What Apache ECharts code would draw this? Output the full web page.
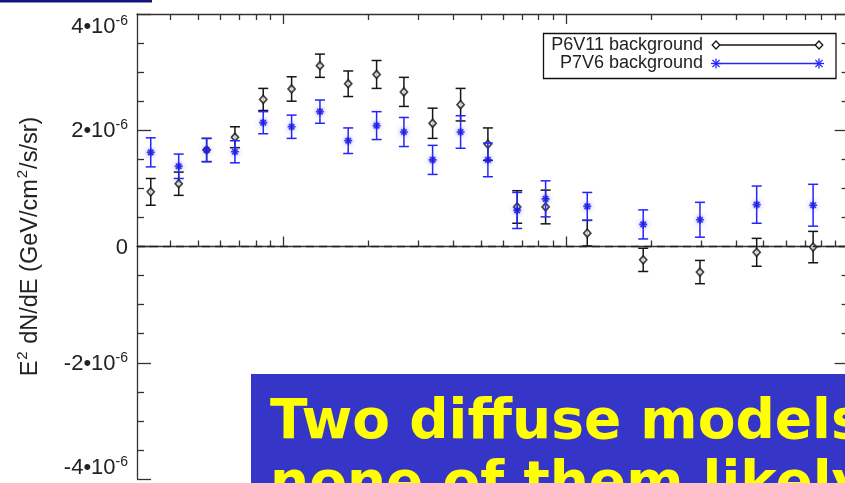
<!DOCTYPE html>
<html>
<head>
<meta charset="utf-8">
<script src="https://cdn.jsdelivr.net/npm/echarts@6/dist/echarts.min.js"></script>
<style>
  html, body { margin: 0; padding: 0; background: #ffffff; }
  #chart { width: 845px; height: 483px; }
</style>
</head>
<body>
<div id="chart"></div>
<script>
// Energy bin centres (GeV)
const energy = [0.340, 0.427, 0.536, 0.675, 0.850, 1.071, 1.349, 1.698, 2.140, 2.673,
                3.377, 4.242, 5.298, 6.725, 8.476, 11.9, 18.77, 29.8, 47.3, 74.9];

// E^2 dN/dE residual spectra, in units of 1e-6 GeV/cm^2/s/sr
const p6v11    = [0.94, 1.08, 1.66, 1.88, 2.53, 2.71, 3.11, 2.80, 2.96, 2.66,
                  2.12, 2.44, 1.76, 0.68, 0.68, 0.23, -0.23, -0.44, -0.10, -0.01];
const p6v11Err = [0.23, 0.20, 0.20, 0.18, 0.19, 0.21, 0.20, 0.22, 0.24, 0.25,
                  0.26, 0.28, 0.28, 0.28, 0.29, 0.22, 0.20, 0.20, 0.24, 0.27];
const p7v6     = [1.62, 1.38, 1.66, 1.63, 2.13, 2.06, 2.32, 1.82, 2.08, 1.97,
                  1.49, 1.97, 1.49, 0.62, 0.82, 0.69, 0.38, 0.46, 0.72, 0.71];
const p7v6Err  = [0.25, 0.21, 0.20, 0.19, 0.19, 0.20, 0.20, 0.22, 0.24, 0.25,
                  0.25, 0.28, 0.29, 0.31, 0.31, 0.24, 0.25, 0.30, 0.32, 0.36];

const seriesNames = ['P6V11 background', 'P7V6 background'];

// Axis ticks
const yTicks = [-4, -2, 0, 2, 4];          // labelled, x 1e-6
const xMajorTicks = [1, 10];
const xMinorTicks = [0.4, 0.5, 0.6, 0.7, 0.8, 0.9,
                     2, 3, 4, 5, 6, 7, 8, 9,
                     20, 30, 40, 50, 60, 70, 80, 90];

const yAxisTitle = ['E', '2', ' dN/dE (GeV/cm', '2', '/s/sr)'];
const boxLines = ['Two diffuse models', 'none of them likely'];

const BLACK = '#161616';
const BLUE = '#2424ff';
const AXIS = '#333333';
const FONT = '"Liberation Sans", Arial, sans-serif';

const asteriskPath = 'path://M5,0V10M0,5H10M1.6,1.6L8.4,8.4M1.6,8.4L8.4,1.6';

function pack(xs, ys, es) {
  return xs.map((x, i) => [x, ys[i], es[i]]);
}

// Vertical error bar with caps, positioned through the axes
function errorBar(color) {
  return function (params, api) {
    const x = api.value(0), y = api.value(1), e = api.value(2);
    const hi = api.coord([x, y + e]);
    const lo = api.coord([x, y - e]);
    const cap = 5;
    const style = { stroke: color, lineWidth: 1.5, fill: null };
    return {
      type: 'group',
      children: [
        { type: 'line', shape: { x1: hi[0], y1: hi[1], x2: lo[0], y2: lo[1] }, style },
        { type: 'line', shape: { x1: hi[0] - cap, y1: hi[1], x2: hi[0] + cap, y2: hi[1] }, style },
        { type: 'line', shape: { x1: lo[0] - cap, y1: lo[1], x2: lo[0] + cap, y2: lo[1] }, style }
      ]
    };
  };
}

const xBase = {
  type: 'log',
  logBase: 10,
  min: 0.304,
  max: 100,
  axisLabel: { show: false },
  splitLine: { show: false },
  minorTick: { show: false }
};
const tickStyle = { color: AXIS, width: 1.3 };

const xAxes = [
  Object.assign({}, xBase, { position: 'bottom',
    axisLine: { show: true, lineStyle: tickStyle },
    axisTick: { show: true, inside: true, length: 10, customValues: xMajorTicks, lineStyle: tickStyle } }),
  Object.assign({}, xBase, { position: 'bottom',
    axisLine: { show: false },
    axisTick: { show: true, inside: true, length: 6, customValues: xMinorTicks, lineStyle: tickStyle } }),
  Object.assign({}, xBase, { position: 'top',
    axisLine: { show: true, lineStyle: tickStyle },
    axisTick: { show: true, inside: true, length: 10, customValues: xMajorTicks, lineStyle: tickStyle } }),
  Object.assign({}, xBase, { position: 'top',
    axisLine: { show: false },
    axisTick: { show: true, inside: true, length: 6, customValues: xMinorTicks, lineStyle: tickStyle } })
];

const yBase = {
  type: 'value',
  min: yTicks[0],
  max: yTicks[yTicks.length - 1],
  interval: 2,
  splitLine: { show: false },
  axisLine: { show: true, lineStyle: tickStyle },
  axisTick: { show: true, inside: true, length: 14, lineStyle: tickStyle },
  minorTick: { show: true, splitNumber: 4, length: 7, lineStyle: tickStyle }
};

const yAxes = [
  Object.assign({}, yBase, {
    position: 'left',
    name: yAxisTitle.map((t, i) => (i % 2 ? '{s|' + t + '}' : '{n|' + t + '}')).join(''),
    nameLocation: 'middle',
    nameRotate: 90,
    nameGap: 94,
    nameTextStyle: {
      rich: {
        n: { fontFamily: FONT, fontSize: 23.5, color: '#222', lineHeight: 28, verticalAlign: 'bottom' },
        s: { fontFamily: FONT, fontSize: 15, color: '#222', lineHeight: 28, verticalAlign: 'top', padding: [0, 1, 0, 1] }
      }
    },
    axisLabel: {
      show: true,
      margin: 9,
      verticalAlignMaxLabel: 'top',
      verticalAlignMinLabel: 'bottom',
      formatter: v => (v === 0 ? '{m|0}' : '{m|' + v + '•10}{s|-6}'),
      rich: {
        m: { fontFamily: FONT, fontSize: 22, color: '#222', lineHeight: 24, verticalAlign: 'bottom' },
        s: { fontFamily: FONT, fontSize: 14, color: '#222', lineHeight: 24, verticalAlign: 'top' }
      }
    }
  }),
  Object.assign({}, yBase, { position: 'right', axisLabel: { show: false } })
];

// Legend drawn as a boxed key with a marker at each end of the sample line
function diamond(cx, cy) {
  return { type: 'polygon', shape: { points: [[cx, cy - 4], [cx + 3.8, cy], [cx, cy + 4], [cx - 3.8, cy]] },
           style: { fill: '#fff', stroke: BLACK, lineWidth: 1.3 }, z: 102 };
}
function asterisk(cx, cy) {
  const s = { stroke: BLUE, lineWidth: 1.3 };
  const r = 5, d = 3.6;
  return [
    { type: 'line', shape: { x1: cx, y1: cy - r, x2: cx, y2: cy + r }, style: s, z: 102 },
    { type: 'line', shape: { x1: cx - r, y1: cy, x2: cx + r, y2: cy }, style: s, z: 102 },
    { type: 'line', shape: { x1: cx - d, y1: cy - d, x2: cx + d, y2: cy + d }, style: s, z: 102 },
    { type: 'line', shape: { x1: cx - d, y1: cy + d, x2: cx + d, y2: cy - d }, style: s, z: 102 }
  ];
}

const legendX0 = 716, legendX1 = 819, row1 = 45, row2 = 63.5;
const legendGraphics = [
  { type: 'rect', shape: { x: 543.5, y: 33.5, width: 292.5, height: 45 },
    style: { fill: '#fff', stroke: '#111', lineWidth: 1.3 }, z: 100 },
  { type: 'text', x: 703, y: row1, z: 101,
    style: { text: seriesNames[0], font: '18px ' + FONT, fill: '#222', align: 'right', verticalAlign: 'middle' } },
  { type: 'text', x: 703, y: row2, z: 101,
    style: { text: seriesNames[1], font: '18px ' + FONT, fill: '#222', align: 'right', verticalAlign: 'middle' } },
  { type: 'line', shape: { x1: legendX0, y1: row1, x2: legendX1, y2: row1 },
    style: { stroke: BLACK, lineWidth: 1.3 }, z: 101 },
  diamond(legendX0, row1), diamond(legendX1, row1),
  { type: 'line', shape: { x1: legendX0, y1: row2, x2: legendX1, y2: row2 },
    style: { stroke: BLUE, lineWidth: 1.3 }, z: 101 }
].concat(asterisk(legendX0, row2), asterisk(legendX1, row2));

// Slide overlay: caption box and the header rule
const overlayGraphics = [
  { type: 'rect', shape: { x: 0, y: 0, width: 152, height: 2.6 }, style: { fill: '#14147a' }, z: 100 },
  { type: 'rect', shape: { x: 251, y: 374, width: 620, height: 120 }, style: { fill: '#3535c8' }, z: 110 },
  { type: 'text', x: 270, y: 424, z: 111,
    style: { text: boxLines[0], font: 'bold 55px "DejaVu Sans", Verdana, sans-serif', fill: '#ffff00', verticalAlign: 'middle' } },
  { type: 'text', x: 270, y: 486, z: 111,
    style: { text: boxLines[1], font: 'bold 55px "DejaVu Sans", Verdana, sans-serif', fill: '#ffff00', verticalAlign: 'middle' } }
];

const chart = echarts.init(document.getElementById('chart'), null, { renderer: 'canvas' });
chart.setOption({
  animation: false,
  backgroundColor: '#ffffff',
  grid: { left: 137, top: 14, right: -3.6, bottom: 4, containLabel: false, outerBoundsMode: 'none' },
  xAxis: xAxes,
  yAxis: yAxes,
  series: [
    {
      name: seriesNames[0] + ' errors',
      type: 'custom',
      renderItem: errorBar(BLACK),
      data: pack(energy, p6v11, p6v11Err),
      encode: { x: 0, y: 1 },
      z: 3,
      silent: true,
      markLine: {
        silent: true,
        symbol: 'none',
        label: { show: false },
        lineStyle: { color: '#222', width: 1.3, type: [8, 5] },
        data: [{ yAxis: 0 }]
      }
    },
    {
      name: seriesNames[0],
      type: 'scatter',
      data: pack(energy, p6v11, p6v11Err),
      symbol: 'diamond',
      symbolSize: [7, 8],
      itemStyle: { color: '#f4f4f4', borderColor: BLACK, borderWidth: 1.8 },
      z: 4
    },
    {
      name: seriesNames[1] + ' errors',
      type: 'custom',
      renderItem: errorBar(BLUE),
      data: pack(energy, p7v6, p7v6Err),
      encode: { x: 0, y: 1 },
      z: 5,
      silent: true
    },
    {
      name: seriesNames[1],
      type: 'scatter',
      data: pack(energy, p7v6, p7v6Err),
      symbol: asteriskPath,
      symbolSize: 8,
      itemStyle: { color: '#1010e0', borderColor: '#1010e0', borderWidth: 1.7,
                   shadowBlur: 5, shadowColor: 'rgba(120,120,255,0.9)' },
      z: 6
    }
  ],
  graphic: legendGraphics.concat(overlayGraphics)
});
</script>
</body>
</html>
